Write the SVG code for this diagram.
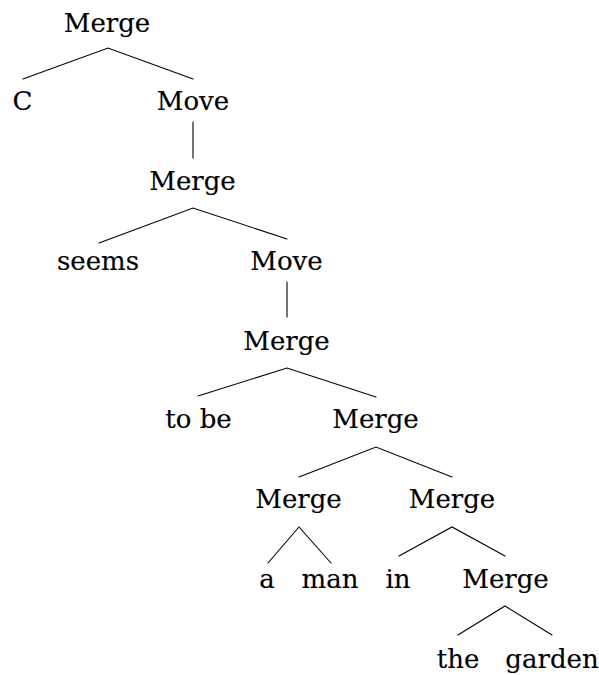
<svg xmlns="http://www.w3.org/2000/svg" width="599" height="675" viewBox="0 0 599 675">
<style>
.e{stroke:#000;stroke-width:1.1;fill:none;stroke-linecap:round}
text{font-family:"DejaVu Serif",serif;font-size:26px;fill:#000;stroke:#000;stroke-width:0.15;text-anchor:middle}
</style>
<rect width="599" height="675" fill="#fff"/>
<g id="connectors">
<path class="e" d="M23,79 L108,48 L193,79"/>
<path class="e" d="M193,122 L193,158"/>
<path class="e" d="M99,243 L193,208 L287,239"/>
<path class="e" d="M287,282 L287,317"/>
<path class="e" d="M198,396 L287,368 L376,397"/>
<path class="e" d="M299,477 L376,447 L452,477"/>
<path class="e" d="M268,563 L299,527 L331,563"/>
<path class="e" d="M399,556 L452,527 L505,556"/>
<path class="e" d="M458,635 L505,606 L552,635"/>
</g>
<g id="n0"><text x="107" y="31.5">Merge</text></g>
<g id="n1"><text x="22.5" y="110">C</text></g>
<g id="n2"><text x="193" y="110">Move</text></g>
<g id="n3"><text x="192.5" y="190">Merge</text></g>
<g id="n4"><text x="98" y="269.5">seems</text></g>
<g id="n5"><text x="286.5" y="269.5">Move</text></g>
<g id="n6"><text x="286.5" y="349.5">Merge</text></g>
<g id="n7"><text x="198.5" y="428">to be</text></g>
<g id="n8"><text x="375.5" y="428">Merge</text></g>
<g id="n9"><text x="298.5" y="508">Merge</text></g>
<g id="n10"><text x="452" y="508">Merge</text></g>
<g id="n11"><text x="267" y="588">a</text></g>
<g id="n12"><text x="330" y="588">man</text></g>
<g id="n13"><text x="398" y="588">in</text></g>
<g id="n14"><text x="505.5" y="588">Merge</text></g>
<g id="n15"><text x="458" y="667.5">the</text></g>
<g id="n16"><text x="552" y="667.5">garden</text></g>
</svg>
